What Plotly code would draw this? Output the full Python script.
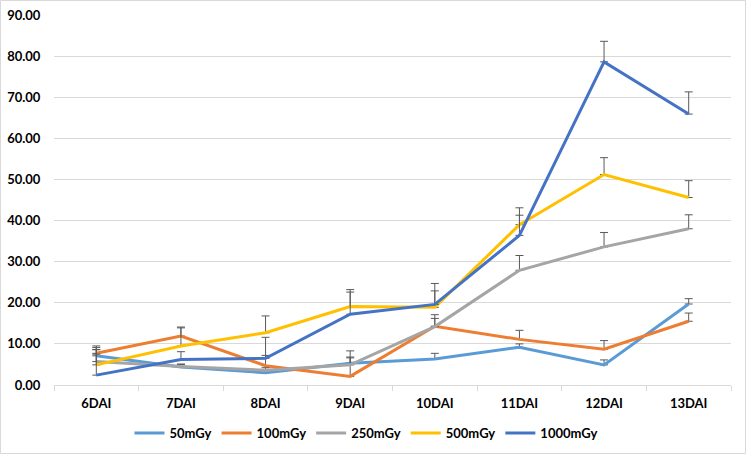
import plotly.graph_objects as go

categories = ["6DAI", "7DAI", "8DAI", "9DAI", "10DAI", "11DAI", "12DAI", "13DAI"]
series_names = ["50mGy", "100mGy", "250mGy", "500mGy", "1000mGy"]

v50 = [7.1, 4.4, 3.0, 5.3, 6.3, 9.2, 4.9, 19.7]
v100 = [7.7, 11.9, 4.7, 2.1, 14.3, 11.1, 8.7, 15.5]
v250 = [5.7, 4.5, 3.6, 4.9, 14.2, 27.9, 33.6, 38.0]
v500 = [4.9, 9.5, 12.7, 19.1, 18.9, 39.0, 51.2, 45.6]
v1000 = [2.4, 6.2, 6.5, 17.2, 19.6, 36.4, 78.6, 65.9]

e50 = [1.5, 0.6, 0.5, 1.5, 1.4, 0.8, 1.2, 1.3]
e100 = [1.4, 2.0, 2.5, 4.5, 2.8, 2.2, 2.1, 2.0]
e250 = [2.9, 0.6, 0.6, 3.4, 2.0, 3.6, 3.5, 3.4]
e500 = [2.6, 4.6, 4.1, 4.1, 4.0, 4.1, 4.1, 4.1]
e1000 = [7.1, 1.9, 5.1, 5.4, 5.1, 4.9, 5.0, 5.4]

colors = ["#5B9BD5", "#ED7D31", "#A5A5A5", "#FFC000", "#4472C4"]
values = [v50, v100, v250, v500, v1000]
errors = [e50, e100, e250, e500, e1000]

y_ticks = [0, 10, 20, 30, 40, 50, 60, 70, 80, 90]

W, H = 746, 454
ML, MR, MT, MB = 54, 15, 15, 69
PW, PH = W - ML - MR, H - MT - MB

fig = go.Figure()
for name, vals, errs, col in zip(series_names, values, errors, colors):
    fig.add_trace(go.Scatter(
        x=categories, y=vals, name=name, mode="lines",
        line=dict(color=col, width=3),
        error_y=dict(type="data", array=errs, arrayminus=[0] * len(errs),
                     symmetric=False, color="#595959", thickness=1, width=4),
    ))

font_main = dict(family="Lato, Open Sans, sans-serif", size=13, color="#000000", weight="bold")

fig.update_layout(
    width=W, height=H,
    margin=dict(l=ML, r=MR, t=MT, b=MB, autoexpand=False),
    paper_bgcolor="white", plot_bgcolor="white",
    font=font_main,
    showlegend=True,
    legend=dict(orientation="h", x=(366 - ML) / PW, xanchor="center",
                y=-(433 - 385) / PH, yanchor="middle",
                font=font_main, itemwidth=30, tracegroupgap=0),
    xaxis=dict(type="category", range=[-0.5, 7.5], showgrid=False, automargin=False,
               showline=True, linecolor="#D9D9D9", linewidth=1,
               ticks="outside", tickson="boundaries", ticklen=5, tickcolor="#D9D9D9",
               tickfont=font_main, zeroline=False, ticklabelstandoff=6),
    yaxis=dict(range=[0, 90], tickvals=y_ticks, tickformat=".2f", automargin=False,
               showgrid=True, gridcolor="#D9D9D9", gridwidth=1,
               zeroline=False, showline=False, ticks="outside", ticklen=10,
               tickcolor="rgba(0,0,0,0)", tickfont=font_main),
    shapes=[dict(type="rect", xref="paper", yref="paper",
                 x0=(-ML + 0.5) / PW, x1=1 + (MR - 0.5) / PW,
                 y0=(-MB + 0.5) / PH, y1=1 + (MT - 0.5) / PH,
                 line=dict(color="#D9D9D9", width=1), fillcolor="rgba(0,0,0,0)",
                 layer="below")],
)

fig.write_html("out.html", config={"displayModeBar": False},
               post_script="document.body.style.margin='0';document.body.style.padding='0';")
